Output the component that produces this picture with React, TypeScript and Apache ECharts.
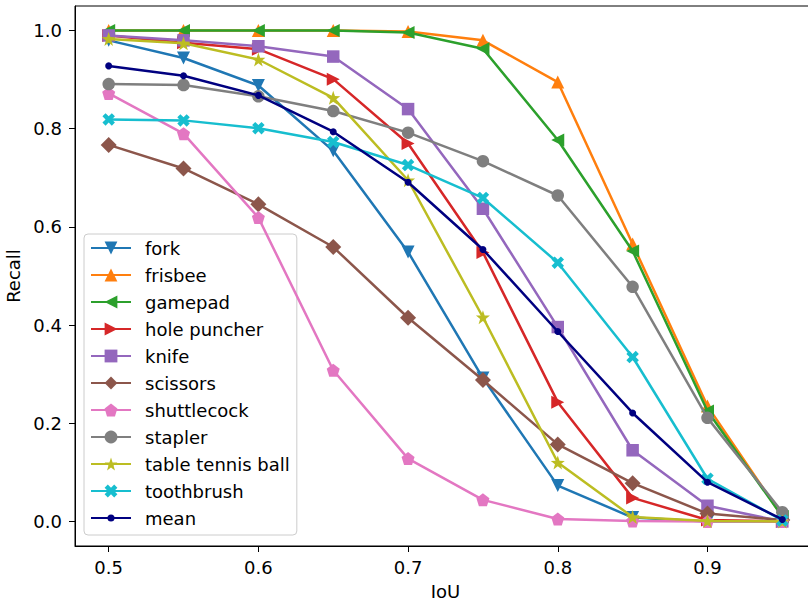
import React, { useEffect, useRef } from "react";
import * as echarts from "echarts";

const iou = [0.5, 0.55, 0.6, 0.65, 0.7, 0.75, 0.8, 0.85, 0.9, 0.95];
const xTicks = [0.5, 0.6, 0.7, 0.8, 0.9];
const yTicks = [0.0, 0.2, 0.4, 0.6, 0.8, 1.0];

const fork = [0.98, 0.944, 0.888, 0.755, 0.549, 0.292, 0.073, 0.008, 0.0, 0.0];
const frisbee = [1.0, 1.0, 1.0, 1.0, 0.998, 0.98, 0.895, 0.565, 0.235, 0.01];
const gamepad = [1.0, 1.0, 1.0, 1.0, 0.996, 0.963, 0.777, 0.551, 0.225, 0.01];
const holePuncher = [0.99, 0.975, 0.962, 0.901, 0.77, 0.548, 0.243, 0.048, 0.003, 0.0];
const knife = [0.99, 0.98, 0.968, 0.947, 0.84, 0.637, 0.396, 0.145, 0.032, 0.0];
const scissors = [0.767, 0.719, 0.646, 0.559, 0.415, 0.288, 0.157, 0.078, 0.016, 0.003];
const shuttlecock = [0.872, 0.79, 0.619, 0.308, 0.128, 0.044, 0.005, 0.001, 0.0, 0.0];
const stapler = [0.891, 0.889, 0.866, 0.836, 0.792, 0.734, 0.664, 0.478, 0.211, 0.019];
const tableTennisBall = [0.983, 0.974, 0.941, 0.863, 0.695, 0.416, 0.12, 0.009, 0.001, 0.0];
const toothbrush = [0.819, 0.817, 0.801, 0.773, 0.726, 0.659, 0.527, 0.335, 0.087, 0.002];
const mean = [0.928, 0.908, 0.868, 0.794, 0.691, 0.554, 0.387, 0.221, 0.08, 0.004];

const seriesNames = [
  "fork",
  "frisbee",
  "gamepad",
  "hole puncher",
  "knife",
  "scissors",
  "shuttlecock",
  "stapler",
  "table tennis ball",
  "toothbrush",
  "mean",
];
const seriesValues = [
  fork,
  frisbee,
  gamepad,
  holePuncher,
  knife,
  scissors,
  shuttlecock,
  stapler,
  tableTennisBall,
  toothbrush,
  mean,
];

const colors = [
  "#1f77b4",
  "#ff7f0e",
  "#2ca02c",
  "#d62728",
  "#9467bd",
  "#8c564b",
  "#e377c2",
  "#7f7f7f",
  "#bcbd22",
  "#17becf",
  "#000080",
];

const symbols = [
  "path://M0,0L10,0L5,10Z",
  "path://M5,0L10,10L0,10Z",
  "path://M10,0L10,10L0,5Z",
  "path://M0,0L10,5L0,10Z",
  "rect",
  "diamond",
  "path://M5,0L9.76,3.45L7.94,9.05L2.06,9.05L0.24,3.45Z",
  "circle",
  "path://M5,0L6.18,3.38L9.76,3.45L6.9,5.62L7.94,9.05L5,7L2.06,9.05L3.1,5.62L0.24,3.45L3.82,3.38Z",
  "path://M2.5,0L5,2.5L7.5,0L10,2.5L7.5,5L10,7.5L7.5,10L5,7.5L2.5,10L0,7.5L2.5,5L0,2.5Z",
  "circle",
];
const symbolSizes = [13, 13, 13, 13, 12.5, 16, 13, 12.5, 14, 12.5, 7];

// legend-only icon for "mean": a small dot inside a larger (invisible) box
const meanLegendSymbol =
  "path://M0,0M20,20M4.5,10A5.5,5.5,0,1,1,15.5,10A5.5,5.5,0,1,1,4.5,10Z";

const FONT = "DejaVu Sans";

export default function App() {
  const ref = useRef<HTMLDivElement>(null);
  useEffect(() => {
    if (!ref.current) return;
    const chart = echarts.init(ref.current, null, { renderer: "svg" });
    const series: any[] = [];
    seriesNames.forEach((name, i) => {
      if (name === "mean") {
        series.push({
          name,
          type: "line",
          data: [],
          symbol: meanLegendSymbol,
          symbolSize: 7,
          itemStyle: { color: colors[i] },
          lineStyle: { color: colors[i], width: 2.5 },
        });
      }
      series.push({
        name,
        type: "line",
        data: iou.map((x, j) => [x, seriesValues[i][j]]),
        symbol: symbols[i],
        symbolSize: symbolSizes[i],
        showAllSymbol: true,
        itemStyle: { color: colors[i], opacity: 1 },
        lineStyle: { color: colors[i], width: 2.5 },
        emphasis: { disabled: true },
        z: 2 + i,
      });
    });
    chart.setOption({
      animation: false,
      textStyle: { fontFamily: FONT },
      grid: {
        left: 75,
        top: 6,
        width: 741,
        height: 540,
        containLabel: false,
        outerBoundsMode: "none",
        show: true,
        borderColor: "#000",
        borderWidth: 1,
        backgroundColor: "transparent",
      },
      legend: {
        orient: "vertical",
        left: 84,
        top: 234,
        padding: [5, 7, 8, 6],
        itemWidth: 40,
        itemHeight: 16,
        itemGap: 9,
        backgroundColor: "rgba(255,255,255,0.8)",
        borderColor: "#cccccc",
        borderWidth: 1,
        borderRadius: 4,
        textStyle: {
          fontFamily: FONT,
          fontSize: 18,
          color: "#000",
          padding: [0, 0, 0, 9],
        },
        data: seriesNames,
      },
      xAxis: {
        type: "value",
        min: 0.4775,
        max: 0.9725,
        name: "IoU",
        nameLocation: "middle",
        nameGap: 36,
        nameTextStyle: { fontFamily: FONT, fontSize: 18, color: "#000" },
        axisLine: { show: true, onZero: false, lineStyle: { color: "#000", width: 1 } },
        axisTick: {
          show: true,
          length: 6,
          lineStyle: { color: "#000" },
          customValues: xTicks,
        },
        axisLabel: {
          fontFamily: FONT,
          fontSize: 18,
          color: "#000",
          margin: 12,
          customValues: xTicks,
          formatter: (v: number) => v.toFixed(1),
        },
        splitLine: { show: false },
      },
      yAxis: {
        type: "value",
        min: -0.05,
        max: 1.05,
        name: "Recall",
        nameLocation: "middle",
        nameGap: 45,
        nameTextStyle: { fontFamily: FONT, fontSize: 18, color: "#000" },
        axisLine: { show: true, onZero: false, lineStyle: { color: "#000", width: 1 } },
        axisTick: {
          show: true,
          length: 6,
          lineStyle: { color: "#000" },
          customValues: yTicks,
        },
        axisLabel: {
          fontFamily: FONT,
          fontSize: 18,
          color: "#000",
          margin: 13,
          customValues: yTicks,
          formatter: (v: number) => v.toFixed(1),
        },
        splitLine: { show: false },
      },
      series,
    });
    return () => chart.dispose();
  }, []);
  return (
    <div
      ref={ref}
      style={{ position: "fixed", left: 0, top: 0, width: 808, height: 606, background: "#fff" }}
    />
  );
}
